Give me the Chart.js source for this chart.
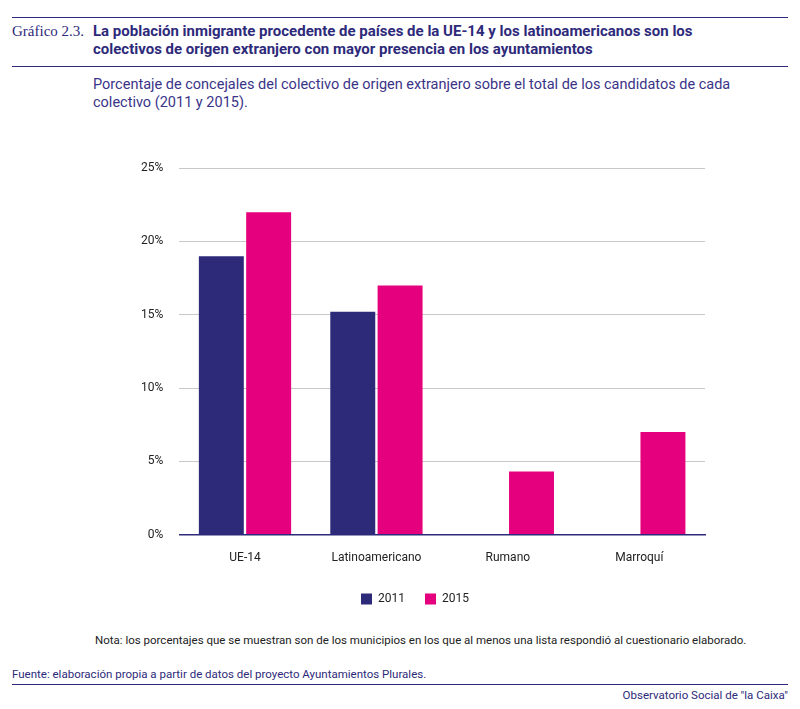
<!DOCTYPE html>
<html><head><meta charset="utf-8">
<script src="https://cdn.jsdelivr.net/npm/chart.js@4"></script>
<style>
body{margin:0;width:800px;height:709px;background:#fff;font-family:Roboto,"Noto Sans",sans-serif;color:#2e2a7a;position:relative}
.hl{position:absolute;left:12px;right:12px;border-top:1.5px solid #2e2a7a}
#title{position:absolute;left:12px;top:22px;font-size:15px;line-height:18px}
#title .n{font-family:"Liberation Serif",serif;font-size:15px;position:absolute;left:0;top:0;width:80px}
#title .t{margin-left:81px;font-weight:bold;width:640px}
#sub{position:absolute;left:93px;top:76px;font-size:14.5px;line-height:18px;width:680px;color:#3a3488}
#wrap{position:absolute;left:100px;top:145px;width:620px;height:470px}
#note{position:absolute;left:95px;top:633px;font-size:11.5px;color:#222}
#src{position:absolute;left:12px;top:667px;font-size:11.5px}
#obs{position:absolute;right:12px;top:688px;font-size:11.5px}
</style></head><body>
<div class="hl" style="top:17px"></div>
<div id="title"><div class="n">Gráfico 2.3.</div><div class="t">La población inmigrante procedente de países de la UE-14 y los latinoamericanos son los colectivos de origen extranjero con mayor presencia en los ayuntamientos</div></div>
<div class="hl" style="top:66px"></div>
<div id="sub">Porcentaje de concejales del colectivo de origen extranjero sobre el total de los candidatos de cada colectivo (2011 y 2015).</div>
<div id="wrap"><canvas id="c"></canvas></div>
<div id="note">Nota: los porcentajes que se muestran son de los municipios en los que al menos una lista respondió al cuestionario elaborado.</div>
<div id="src">Fuente: elaboración propia a partir de datos del proyecto Ayuntamientos Plurales.</div>
<div class="hl" style="top:684px"></div>
<div id="obs">Observatorio Social de "la Caixa"</div>
<script>
const categories = ['UE-14', 'Latinoamericano', 'Rumano', 'Marroquí'];
const values2011 = [19, 15.2, null, null];
const values2015 = [22, 17, 4.3, 7];
const tickValues = [0, 5, 10, 15, 20, 25];

new Chart(document.getElementById('c'), {
    type: 'bar',
    data: {
        labels: categories,
        datasets: [
            { label: '2011', data: values2011, backgroundColor: '#2e2a7a', categoryPercentage: 0.72, barPercentage: 0.95 },
            { label: '2015', data: values2015, backgroundColor: '#e5007e', categoryPercentage: 0.72, barPercentage: 0.95 }
        ]
    },
    options: {
        responsive: true,
        maintainAspectRatio: false,
        animation: false,
        layout: { padding: { left: 25, right: 15, top: 0, bottom: 0 } },
        scales: {
            x: {
                grid: { display: false },
                border: { color: '#2e2a7a', width: 1.5 },
                ticks: { color: '#222', font: { size: 12, family: 'Roboto' }, padding: 8 }
            },
            y: {
                min: 0, max: 25,
                afterBuildTicks: s => { s.ticks = tickValues.map(v => ({ value: v })); },
                grid: { color: '#c8c8c8', drawTicks: false },
                border: { display: false },
                ticks: { color: '#222', font: { size: 12, family: 'Roboto' }, padding: 16, callback: v => v + '%' }
            }
        },
        plugins: {
            legend: {
                position: 'bottom',
                labels: { color: '#222', boxWidth: 11, boxHeight: 11, padding: 20, font: { size: 12, family: 'Roboto' } }
            },
            tooltip: { enabled: false }
        }
    }
});
</script>
</body></html>
